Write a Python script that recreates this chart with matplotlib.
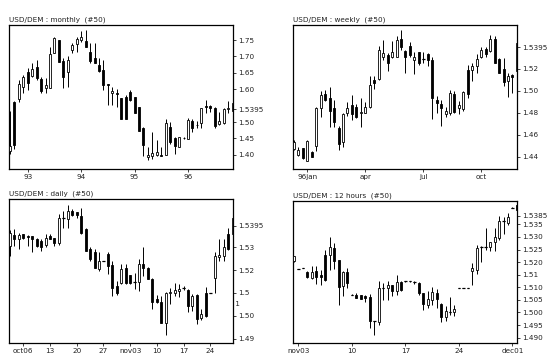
import numpy as np
import matplotlib
matplotlib.use("Agg")
import matplotlib.pyplot as plt

# ---- monthly (Sep 92 .. Nov 96) ----
m_open = [1.412, 1.561, 1.569, 1.608, 1.654, 1.641, 1.669, 1.630, 1.603, 1.603,
          1.712, 1.750, 1.686, 1.654, 1.720, 1.738, 1.750, 1.747, 1.714, 1.694,
          1.674, 1.659, 1.616, 1.588, 1.590, 1.573, 1.576, 1.592, 1.576, 1.546,
          1.482, 1.393, 1.396, 1.401, 1.400, 1.400, 1.485, 1.451, 1.424, 1.452,
          1.447, 1.502, 1.492, 1.498, 1.548, 1.549, 1.543, 1.495, 1.498, 1.539, 1.535]
m_high = [1.533, 1.565, 1.628, 1.644, 1.664, 1.679, 1.689, 1.638, 1.633, 1.730,
          1.760, 1.750, 1.694, 1.702, 1.740, 1.758, 1.779, 1.781, 1.740, 1.740,
          1.694, 1.689, 1.616, 1.607, 1.602, 1.573, 1.581, 1.597, 1.576, 1.546,
          1.485, 1.425, 1.469, 1.444, 1.424, 1.510, 1.500, 1.454, 1.454, 1.453,
          1.512, 1.510, 1.502, 1.543, 1.566, 1.553, 1.546, 1.531, 1.543, 1.563, 1.560]
m_low = [1.402, 1.418, 1.562, 1.588, 1.598, 1.637, 1.628, 1.588, 1.590, 1.603,
         1.709, 1.684, 1.605, 1.608, 1.710, 1.715, 1.745, 1.730, 1.679, 1.679,
         1.654, 1.598, 1.551, 1.551, 1.546, 1.508, 1.508, 1.563, 1.528, 1.472,
         1.398, 1.383, 1.388, 1.398, 1.396, 1.400, 1.434, 1.403, 1.424, 1.449,
         1.447, 1.470, 1.482, 1.482, 1.528, 1.531, 1.482, 1.490, 1.495, 1.529, 1.505]
m_close = [1.427, 1.430, 1.615, 1.636, 1.618, 1.661, 1.633, 1.595, 1.613, 1.708,
           1.756, 1.684, 1.638, 1.689, 1.735, 1.752, 1.758, 1.730, 1.686, 1.679,
           1.657, 1.612, 1.612, 1.596, 1.586, 1.510, 1.510, 1.566, 1.528, 1.472,
           1.429, 1.400, 1.405, 1.408, 1.396, 1.497, 1.439, 1.427, 1.454, 1.450,
           1.507, 1.482, 1.490, 1.543, 1.546, 1.543, 1.488, 1.502, 1.539, 1.543, 1.557]
m_ticks = [4, 16, 28, 40]
m_labels = ["93", "94", "95", "96"]
m_yticks = [1.40, 1.45, 1.50, 1.5395, 1.60, 1.65, 1.70, 1.75]
m_ylabels = ["1.40", "1.45", "1.50", "1.5395", "1.60", "1.65", "1.70", "1.75"]

# ---- weekly ----
w_open = [1.447, 1.442, 1.448, 1.436, 1.444, 1.450, 1.484, 1.497, 1.493, 1.484,
          1.466, 1.453, 1.480, 1.487, 1.485, 1.480, 1.480, 1.485, 1.510, 1.511,
          1.531, 1.532, 1.531, 1.531, 1.547, 1.536, 1.541, 1.528, 1.535, 1.529,
          1.533, 1.528, 1.492, 1.488, 1.479, 1.480, 1.497, 1.484, 1.483, 1.519,
          1.519, 1.522, 1.531, 1.538, 1.536, 1.547, 1.529, 1.520, 1.509, 1.514, 1.518]
w_high = [1.455, 1.449, 1.448, 1.455, 1.445, 1.485, 1.500, 1.501, 1.503, 1.492,
          1.468, 1.480, 1.490, 1.496, 1.488, 1.493, 1.490, 1.513, 1.513, 1.541,
          1.546, 1.534, 1.545, 1.550, 1.555, 1.537, 1.544, 1.535, 1.535, 1.535,
          1.534, 1.531, 1.495, 1.492, 1.485, 1.501, 1.500, 1.491, 1.500, 1.523,
          1.525, 1.533, 1.540, 1.540, 1.551, 1.550, 1.530, 1.530, 1.516, 1.515, 1.544]
w_low = [1.446, 1.441, 1.438, 1.436, 1.440, 1.445, 1.476, 1.491, 1.467, 1.467,
         1.446, 1.449, 1.477, 1.473, 1.475, 1.467, 1.480, 1.484, 1.502, 1.510,
         1.528, 1.518, 1.530, 1.531, 1.537, 1.516, 1.531, 1.515, 1.523, 1.525,
         1.522, 1.474, 1.480, 1.468, 1.476, 1.478, 1.480, 1.479, 1.482, 1.493,
         1.509, 1.516, 1.530, 1.531, 1.535, 1.525, 1.516, 1.504, 1.494, 1.498, 1.513]
w_close = [1.4536, 1.446, 1.439, 1.454, 1.440, 1.484, 1.496, 1.492, 1.482, 1.472,
           1.452, 1.479, 1.484, 1.479, 1.476, 1.481, 1.485, 1.505, 1.507, 1.537,
           1.534, 1.525, 1.535, 1.546, 1.540, 1.531, 1.532, 1.531, 1.525, 1.529,
           1.528, 1.493, 1.489, 1.484, 1.482, 1.498, 1.481, 1.487, 1.499, 1.497,
           1.522, 1.529, 1.537, 1.533, 1.547, 1.525, 1.516, 1.508, 1.513, 1.512, 1.543]
w_ticks = [3, 16, 29, 42]
w_labels = ["96jan", "apr", "jul", "oct"]
w_yticks = [1.44, 1.46, 1.48, 1.50, 1.52, 1.5395]
w_ylabels = ["1.44", "1.46", "1.48", "1.50", "1.52", "1.5395"]

# ---- daily ----
d_open = [1.5306, 1.5353, 1.5338, 1.5357, 1.5350, 1.5350, 1.5335, 1.5328, 1.5309, 1.5350,
          1.5342, 1.5318, 1.5430, 1.5423, 1.5459, 1.5455, 1.5437, 1.5382, 1.5291, 1.5277,
          1.5204, 1.5240, 1.5269, 1.5221, 1.5131, 1.5142, 1.5211, 1.5177, 1.5148, 1.5148,
          1.5226, 1.5211, 1.5163, 1.5072, 1.5058, 1.4967, 1.5099, 1.5101, 1.5109, 1.5123,
          1.5113, 1.5043, 1.5090, 1.4988, 1.5101, 1.5099, 1.5167, 1.5259, 1.5262, 1.5357, 1.5357]
d_high = [1.5376, 1.5379, 1.5364, 1.5357, 1.5353, 1.5350, 1.5342, 1.5338, 1.5357, 1.5357,
          1.5342, 1.5445, 1.5459, 1.5484, 1.5466, 1.5455, 1.5474, 1.5386, 1.5299, 1.5291,
          1.5277, 1.5241, 1.5277, 1.5240, 1.5153, 1.5226, 1.5226, 1.5180, 1.5189, 1.5247,
          1.5299, 1.5213, 1.5165, 1.5090, 1.5087, 1.5102, 1.5123, 1.5143, 1.5138, 1.5131,
          1.5116, 1.5094, 1.5094, 1.5028, 1.5128, 1.5100, 1.5277, 1.5335, 1.5335, 1.5386, 1.5437]
d_low = [1.5262, 1.5306, 1.5291, 1.5335, 1.5306, 1.5277, 1.5299, 1.5284, 1.5299, 1.5335,
         1.5306, 1.5309, 1.5386, 1.5386, 1.5437, 1.5430, 1.5357, 1.5284, 1.5240, 1.5211,
         1.5196, 1.5239, 1.5182, 1.5087, 1.5090, 1.5138, 1.5138, 1.5140, 1.5116, 1.5109,
         1.5174, 1.5160, 1.5031, 1.5057, 1.4968, 1.4915, 1.5050, 1.5087, 1.5084, 1.5113,
         1.5017, 1.5021, 1.4963, 1.4982, 1.4996, 1.5098, 1.5101, 1.5240, 1.5240, 1.5288, 1.5350]
d_close = [1.5364, 1.5338, 1.5353, 1.5342, 1.5347, 1.5335, 1.5306, 1.5299, 1.5342, 1.5338,
           1.5318, 1.5430, 1.5430, 1.5459, 1.5440, 1.5440, 1.5364, 1.5284, 1.5250, 1.5211,
           1.5240, 1.5240, 1.5218, 1.5123, 1.5101, 1.5204, 1.5145, 1.5142, 1.5148, 1.5226,
           1.5207, 1.5163, 1.5061, 1.5058, 1.4970, 1.5101, 1.5104, 1.5113, 1.5119, 1.5123,
           1.5043, 1.5087, 1.4985, 1.5007, 1.4999, 1.5099, 1.5262, 1.5265, 1.5299, 1.5294, 1.5430]
d_ticks = [3, 9, 15, 21, 27, 33, 39, 45]
d_labels = ["oct06", "13", "20", "27", "nov03", "10", "17", "24"]
d_yticks = [1.49, 1.50, 1.51, 1.52, 1.53, 1.5395]
d_ylabels = ["1.49", "1.50", "1.5", "1.52", "1.53", "1.5395"]

# ---- 12 hours ----
h_open = [1.5203, 1.5172, 1.5176, 1.5161, 1.5137, 1.5166, 1.5147, 1.5229, 1.5229, 1.5256,
          1.5210, 1.5104, 1.5161, 1.5071, 1.5069, 1.5068, 1.5065, 1.5063, 1.4965, 1.4962,
          1.5097, 1.5097, 1.5108, 1.5087, 1.5120, 1.5124, 1.5124, 1.5121, 1.5117, 1.5077,
          1.5031, 1.5051, 1.5077, 1.5034, 1.4981, 1.5002, 1.5002, 1.5097, 1.5097, 1.5097,
          1.5166, 1.5170, 1.5262, 1.5262, 1.5262, 1.5282, 1.5296, 1.5364, 1.5355, 1.5417, 1.5428]
h_high = [1.5225, 1.5173, 1.5177, 1.5163, 1.5183, 1.5183, 1.5170, 1.5249, 1.5298, 1.5276,
          1.5210, 1.5163, 1.5176, 1.5072, 1.5079, 1.5070, 1.5069, 1.5072, 1.4966, 1.5124,
          1.5117, 1.5124, 1.5110, 1.5147, 1.5124, 1.5125, 1.5125, 1.5126, 1.5121, 1.5077,
          1.5084, 1.5100, 1.5094, 1.5038, 1.5024, 1.5060, 1.5030, 1.5098, 1.5098, 1.5098,
          1.5196, 1.5269, 1.5266, 1.5335, 1.5282, 1.5335, 1.5385, 1.5381, 1.5395, 1.5418, 1.5434]
h_low = [1.5200, 1.5171, 1.5175, 1.5137, 1.5134, 1.5113, 1.5108, 1.5126, 1.5170, 1.5174,
         1.5031, 1.5064, 1.5097, 1.5070, 1.5056, 1.5054, 1.5043, 1.4940, 1.4912, 1.4952,
         1.5051, 1.5051, 1.5064, 1.5071, 1.5087, 1.5123, 1.5123, 1.5113, 1.5071, 1.5011,
         1.5018, 1.5031, 1.5018, 1.4962, 1.4967, 1.4990, 1.4985, 1.5096, 1.5096, 1.5096,
         1.5108, 1.5153, 1.5200, 1.5249, 1.5243, 1.5245, 1.5289, 1.5311, 1.5348, 1.5416, 1.5388]
h_close = [1.5223, 1.5172, 1.5176, 1.5141, 1.5161, 1.5141, 1.5139, 1.5130, 1.5262, 1.5206,
           1.5100, 1.5161, 1.5117, 1.5071, 1.5056, 1.5055, 1.5059, 1.4965, 1.4965, 1.5097,
           1.5097, 1.5108, 1.5087, 1.5120, 1.5090, 1.5124, 1.5124, 1.5121, 1.5077, 1.5034,
           1.5055, 1.5081, 1.5055, 1.4981, 1.5007, 1.5002, 1.5015, 1.5097, 1.5097, 1.5097,
           1.5176, 1.5258, 1.5262, 1.5262, 1.5280, 1.5298, 1.5364, 1.5364, 1.5378, 1.5417, 1.5408]
h_ticks = [1, 13, 25, 37, 49]
h_labels = ["nov03", "10", "17", "24", "dec01"]
h_yticks = [1.490, 1.495, 1.500, 1.505, 1.510, 1.515, 1.520, 1.525, 1.530, 1.535, 1.5385]
h_ylabels = ["1.490", "1.495", "1.500", "1.505", "1.510", "1.51", "1.520",
             "1.525", "1.530", "1.535", "1.5385"]

FS = 5.2
TXT = "#222222"


def candles(ax, o, h, l, c, ylim, width=0.45):
    o, h, l, c = map(np.asarray, (o, h, l, c))
    x = np.arange(len(o))
    ax.vlines(x, l, h, color="black", linewidth=0.7, zorder=2)
    up = c >= o
    bottom = np.minimum(o, c)
    height = np.abs(c - o)
    ax.bar(x[up], height[up], width, bottom=bottom[up], facecolor="white",
           edgecolor="black", linewidth=0.6, zorder=3)
    ax.bar(x[~up], height[~up], width, bottom=bottom[~up], facecolor="black",
           edgecolor="black", linewidth=0.6, zorder=3)
    # flat bars (open == close) shown as short dashes
    doji = height < (ylim[1] - ylim[0]) * 0.004
    ax.hlines(o[doji], x[doji] - 0.3, x[doji] + 0.3,
              color="black", linewidth=0.9, zorder=4)
    ax.set_xlim(-0.15, len(o) - 0.9)
    ax.set_ylim(*ylim)


def style(ax, title, xt, xl, yt, yl):
    ax.set_xticks(xt)
    ax.set_xticklabels(xl)
    ax.set_yticks(yt)
    ax.set_yticklabels(yl)
    ax.yaxis.tick_right()
    ax.tick_params(axis="both", labelsize=FS, colors=TXT, length=2, width=0.6,
                   direction="out", pad=1.5)
    for s in ax.spines.values():
        s.set_linewidth(0.9)
        s.set_color("black")
    ax.text(0.0, 1.015, title, transform=ax.transAxes, fontsize=FS,
            color=TXT, ha="left", va="bottom")


fig = plt.figure(figsize=(5.6, 3.63), dpi=100)

ax1 = fig.add_axes([0.0166, 0.534, 0.3994, 0.397])
candles(ax1, m_open, m_high, m_low, m_close, (1.3564, 1.7957))
style(ax1, "USD/DEM : monthly  (#50)", m_ticks, m_labels, m_yticks, m_ylabels)

ax2 = fig.add_axes([0.5238, 0.534, 0.40, 0.397])
candles(ax2, w_open, w_high, w_low, w_close, (1.4288, 1.5596))
style(ax2, "USD/DEM : weekly  (#50)", w_ticks, w_labels, w_yticks, w_ylabels)

ax3 = fig.add_axes([0.0166, 0.056, 0.3994, 0.395])
candles(ax3, d_open, d_high, d_low, d_close, (1.4882, 1.5510))
style(ax3, "USD/DEM : daily  (#50)", d_ticks, d_labels, d_yticks, d_ylabels)
ax3.text(1.0, 1.5050, " 1", transform=ax3.get_yaxis_transform(), fontsize=FS,
         color=TXT, ha="left", va="center", clip_on=False)

ax4 = fig.add_axes([0.5238, 0.056, 0.40, 0.391])
candles(ax4, h_open, h_high, h_low, h_close, (1.4880, 1.5444))
style(ax4, "USD/DEM : 12 hours  (#50)", h_ticks, h_labels, h_yticks, h_ylabels)

fig.savefig("out.png", dpi=100, facecolor="white")
